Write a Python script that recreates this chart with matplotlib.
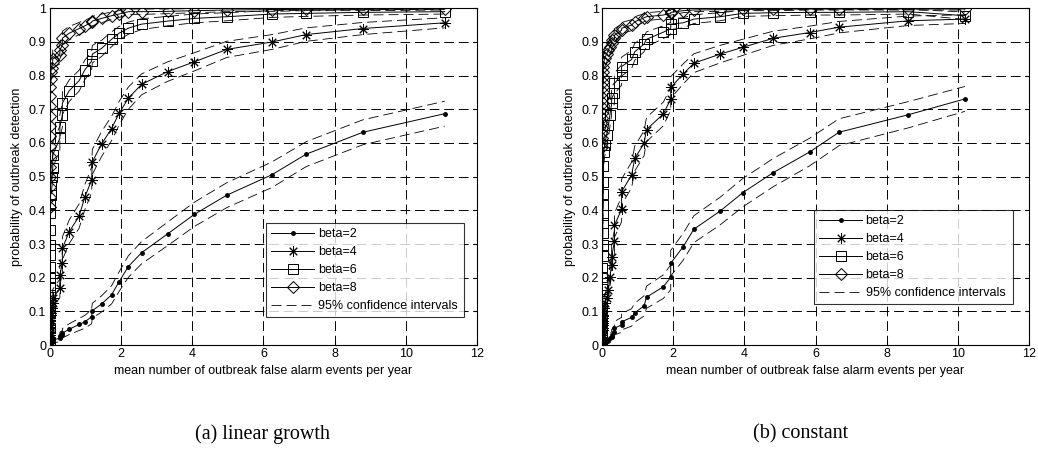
import matplotlib.pyplot as plt
import numpy as np

# ---------------------------------------------------------------
# data (x = false alarms / year, y = P(detect))
# ---------------------------------------------------------------

# (a) linear growth : common false alarm axis for every beta
x_a = [0.0, 0.0, 0.002, 0.004, 0.006, 0.008, 0.01, 0.012, 0.014, 0.016,
       0.018, 0.02, 0.025, 0.03, 0.035, 0.06, 0.09, 0.09, 0.29, 0.29,
       0.36, 0.36, 0.55, 0.83, 0.99, 1.18, 1.20, 1.46, 1.74, 1.95,
       2.21, 2.58, 3.31, 4.06, 4.97, 6.24, 7.20, 8.79, 11.08]

a_beta2 = [0.0, 0.0, 0.001, 0.001, 0.002, 0.002, 0.003, 0.003, 0.004, 0.004,
           0.005, 0.005, 0.006, 0.007, 0.008, 0.01, 0.012, 0.015, 0.02, 0.026,
           0.03, 0.035, 0.047, 0.061, 0.069, 0.084, 0.102, 0.122, 0.149, 0.188,
           0.233, 0.274, 0.33, 0.388, 0.445, 0.506, 0.567, 0.632, 0.687]
a_beta4 = [0.005, 0.01, 0.015, 0.02, 0.03, 0.035, 0.04, 0.05, 0.055, 0.06,
           0.07, 0.075, 0.08, 0.088, 0.094, 0.11, 0.125, 0.139, 0.168, 0.208,
           0.243, 0.287, 0.336, 0.383, 0.439, 0.49, 0.544, 0.597, 0.643, 0.688,
           0.733, 0.774, 0.812, 0.841, 0.878, 0.90, 0.922, 0.94, 0.957]
a_beta6 = [0.01, 0.05, 0.099, 0.119, 0.149, 0.173, 0.198, 0.233, 0.267, 0.297,
           0.342, 0.392, 0.42, 0.445, 0.475, 0.50, 0.525, 0.564, 0.614, 0.648,
           0.683, 0.718, 0.755, 0.785, 0.817, 0.843, 0.864, 0.881, 0.908, 0.926,
           0.941, 0.953, 0.962, 0.97, 0.975, 0.983, 0.985, 0.988, 0.99]
a_beta8 = [0.41, 0.44, 0.47, 0.50, 0.53, 0.56, 0.59, 0.62, 0.65, 0.68,
           0.71, 0.74, 0.765, 0.79, 0.81, 0.822, 0.842, 0.85, 0.861, 0.875,
           0.891, 0.911, 0.926, 0.94, 0.948, 0.958, 0.962, 0.97, 0.978, 0.983,
           0.99, 0.99, 0.991, 0.993, 0.995, 0.996, 0.997, 0.997, 0.998]

# half width of the 95% confidence band
a_hw2 = [0.002, 0.002, 0.002, 0.002, 0.003, 0.003, 0.004, 0.004, 0.005, 0.005,
         0.005, 0.005, 0.006, 0.006, 0.007, 0.007, 0.008, 0.009, 0.01, 0.012,
         0.013, 0.014, 0.016, 0.018, 0.019, 0.021, 0.022, 0.024, 0.027, 0.029,
         0.032, 0.033, 0.035, 0.036, 0.037, 0.038, 0.037, 0.037, 0.037]
a_hw4 = [0.005, 0.007, 0.009, 0.01, 0.013, 0.014, 0.014, 0.016, 0.017, 0.018,
         0.019, 0.02, 0.02, 0.021, 0.022, 0.023, 0.025, 0.026, 0.028, 0.03,
         0.032, 0.034, 0.035, 0.036, 0.037, 0.038, 0.037, 0.037, 0.036, 0.035,
         0.033, 0.031, 0.029, 0.027, 0.024, 0.022, 0.02, 0.018, 0.015]
a_hw6 = [0.007, 0.016, 0.022, 0.024, 0.027, 0.028, 0.03, 0.032, 0.033, 0.034,
         0.036, 0.037, 0.037, 0.037, 0.038, 0.038, 0.038, 0.037, 0.036, 0.036,
         0.035, 0.034, 0.032, 0.031, 0.029, 0.027, 0.026, 0.024, 0.022, 0.02,
         0.018, 0.016, 0.014, 0.013, 0.012, 0.01, 0.009, 0.008, 0.007]
a_hw8 = [0.037, 0.037, 0.038, 0.038, 0.038, 0.037, 0.037, 0.036, 0.036, 0.035,
         0.034, 0.033, 0.032, 0.031, 0.029, 0.029, 0.027, 0.027, 0.026, 0.025,
         0.023, 0.021, 0.02, 0.018, 0.017, 0.015, 0.014, 0.013, 0.011, 0.01,
         0.008, 0.008, 0.007, 0.006, 0.005, 0.005, 0.004, 0.004, 0.003]

# (b) constant
x_b = [0.0, 0.0, 0.002, 0.004, 0.006, 0.008, 0.01, 0.012, 0.014, 0.016,
       0.018, 0.02, 0.022, 0.025, 0.03, 0.035, 0.04, 0.05, 0.07, 0.13,
       0.18, 0.22, 0.27, 0.27, 0.35, 0.35, 0.55, 0.55, 0.83, 0.92,
       1.18, 1.25, 1.72, 1.93, 1.93, 2.28, 2.58, 3.32, 3.95, 4.81,
       5.83, 6.66, 8.61, 10.2]

b_beta2 = [0.0, 0.0, 0.0, 0.0, 0.001, 0.001, 0.002, 0.002, 0.003, 0.003,
           0.004, 0.004, 0.005, 0.005, 0.006, 0.007, 0.008, 0.009, 0.01, 0.012,
           0.015, 0.02, 0.025, 0.03, 0.04, 0.05, 0.06, 0.069, 0.082, 0.096,
           0.116, 0.142, 0.173, 0.201, 0.243, 0.292, 0.344, 0.398, 0.452, 0.512,
           0.573, 0.632, 0.684, 0.731]
b_beta4 = [0.0, 0.005, 0.01, 0.015, 0.02, 0.025, 0.03, 0.04, 0.045, 0.05,
           0.06, 0.065, 0.07, 0.08, 0.085, 0.09, 0.1, 0.11, 0.125, 0.139,
           0.163, 0.203, 0.238, 0.262, 0.309, 0.356, 0.403, 0.455, 0.505, 0.554,
           0.599, 0.64, 0.686, 0.73, 0.765, 0.805, 0.837, 0.864, 0.884, 0.911,
           0.928, 0.944, 0.963, 0.968]
b_beta6 = [0.01, 0.04, 0.07, 0.1, 0.13, 0.165, 0.203, 0.228, 0.264, 0.297,
           0.332, 0.361, 0.386, 0.416, 0.45, 0.485, 0.532, 0.574, 0.594, 0.625,
           0.653, 0.683, 0.718, 0.733, 0.748, 0.777, 0.802, 0.827, 0.848, 0.871,
           0.894, 0.908, 0.929, 0.94, 0.953, 0.957, 0.968, 0.975, 0.985, 0.987,
           0.988, 0.988, 0.99, 0.978]
b_beta8 = [0.589, 0.60, 0.615, 0.63, 0.645, 0.66, 0.675, 0.69, 0.705, 0.72,
           0.735, 0.75, 0.765, 0.78, 0.795, 0.81, 0.825, 0.841, 0.851, 0.865,
           0.876, 0.886, 0.896, 0.905, 0.911, 0.92, 0.935, 0.941, 0.95, 0.96,
           0.972, 0.975, 0.98, 0.985, 0.988, 0.993, 0.995, 0.996, 0.997, 0.997,
           0.998, 0.998, 0.998, 0.998]

b_hw2 = [0.002, 0.002, 0.002, 0.002, 0.003, 0.003, 0.004, 0.004, 0.005, 0.005,
         0.006, 0.006, 0.006, 0.006, 0.007, 0.007, 0.008, 0.008, 0.009, 0.01,
         0.011, 0.013, 0.014, 0.016, 0.018, 0.02, 0.022, 0.024, 0.026, 0.028,
         0.03, 0.033, 0.035, 0.037, 0.038, 0.04, 0.04, 0.041, 0.042, 0.042,
         0.041, 0.04, 0.039, 0.037]
b_hw4 = [0.002, 0.005, 0.007, 0.009, 0.01, 0.011, 0.012, 0.014, 0.015, 0.016,
         0.018, 0.018, 0.019, 0.02, 0.021, 0.021, 0.022, 0.023, 0.025, 0.026,
         0.028, 0.03, 0.032, 0.033, 0.035, 0.036, 0.037, 0.038, 0.038, 0.037,
         0.037, 0.036, 0.035, 0.033, 0.032, 0.03, 0.028, 0.026, 0.024, 0.021,
         0.019, 0.017, 0.014, 0.013]
b_hw6 = [0.007, 0.015, 0.019, 0.022, 0.025, 0.028, 0.03, 0.031, 0.033, 0.034,
         0.035, 0.036, 0.036, 0.037, 0.037, 0.038, 0.037, 0.037, 0.037, 0.036,
         0.036, 0.035, 0.034, 0.033, 0.032, 0.031, 0.03, 0.028, 0.027, 0.025,
         0.023, 0.022, 0.019, 0.018, 0.016, 0.015, 0.013, 0.012, 0.009, 0.009,
         0.008, 0.008, 0.007, 0.011]
b_hw8 = [0.037, 0.037, 0.036, 0.036, 0.036, 0.035, 0.035, 0.034, 0.034, 0.034,
         0.033, 0.032, 0.032, 0.031, 0.03, 0.029, 0.028, 0.027, 0.026, 0.025,
         0.024, 0.023, 0.023, 0.022, 0.021, 0.02, 0.018, 0.017, 0.016, 0.015,
         0.012, 0.012, 0.011, 0.009, 0.008, 0.006, 0.005, 0.005, 0.004, 0.004,
         0.003, 0.003, 0.003, 0.003]

labels = ["beta=2", "beta=4", "beta=6", "beta=8"]
ci_label = "95% confidence intervals"
captions = ["(a) linear growth", "(b) constant"]
xticks = [0, 2, 4, 6, 8, 10, 12]
yticks = [0, 0.1, 0.2, 0.3, 0.4, 0.5, 0.6, 0.7, 0.8, 0.9, 1]
ytick_labels = ["0", "0.1", "0.2", "0.3", "0.4", "0.5", "0.6", "0.7", "0.8", "0.9", "1"]

# ---------------------------------------------------------------
# style
# ---------------------------------------------------------------
FS = 9
plt.rcParams.update({
    "font.family": ["Liberation Sans", "DejaVu Sans"],
    "font.size": FS,
    "axes.linewidth": 0.8,
    "xtick.direction": "in",
    "ytick.direction": "in",
    "xtick.major.size": 3,
    "ytick.major.size": 3,
    "xtick.top": True,
    "ytick.right": True,
})

markers = [
    dict(marker="o", ms=2.5, mfc="k", mec="k"),
    dict(marker=(8, 2, 0), ms=7.5, mew=0.7, mec="k"),
    dict(marker="s", ms=7, mfc="none", mew=0.7, mec="k"),
    dict(marker="D", ms=6.5, mfc="none", mew=0.7, mec="k"),
]
dash = (0, (12, 6))
grid_dash = (0, (10, 5))


def panel(ax, x, series, hws, legend_box):
    x = np.asarray(x)
    for y, hw in zip(series, hws):
        y = np.asarray(y)
        hw = np.asarray(hw)
        ax.plot(x, np.clip(y + hw, 0, 1.0), color="k", lw=0.6, ls=dash)
        ax.plot(x, np.clip(y - hw, 0, 1.0), color="k", lw=0.6, ls=dash)
    handles = []
    for y, lab, mk in zip(series, labels, markers):
        h, = ax.plot(x, y, color="k", lw=0.7, label=lab, **mk)
        handles.append(h)
    ci, = ax.plot([], [], color="k", lw=0.6, ls=dash, label=ci_label)
    handles.append(ci)

    ax.set_xlim(0, 12)
    ax.set_ylim(0, 1)
    ax.set_xticks(xticks)
    ax.set_yticks(yticks)
    ax.set_yticklabels(ytick_labels)
    ax.grid(True, color="k", lw=0.7, ls=grid_dash)
    ax.tick_params(pad=2.5, labelsize=FS)
    ax.set_xlabel("mean number of outbreak false alarm events per year",
                  fontsize=FS, labelpad=3)
    ax.set_ylabel("probability of outbreak detection", fontsize=FS,
                  labelpad=4)

    leg = ax.legend(handles=handles, loc="lower left",
                    bbox_to_anchor=legend_box, mode="expand",
                    fontsize=FS, frameon=True, fancybox=False,
                    handlelength=3.4, handletextpad=0.3,
                    labelspacing=0.48, borderpad=0.4, borderaxespad=0)
    leg.get_frame().set_edgecolor("k")
    leg.get_frame().set_linewidth(0.8)
    leg.set_zorder(5)


fig = plt.figure(figsize=(10.38, 4.67), dpi=100)
fig.patch.set_facecolor("white")

ax_a = fig.add_axes([0.0477, 0.2612, 0.4123, 0.721])
ax_b = fig.add_axes([0.580, 0.2612, 0.4114, 0.721])

panel(ax_a, x_a, [a_beta2, a_beta4, a_beta6, a_beta8],
      [a_hw2, a_hw4, a_hw6, a_hw8], (0.507, 0.082, 0.462, 0.289))
panel(ax_b, x_b, [b_beta2, b_beta4, b_beta6, b_beta8],
      [b_hw2, b_hw4, b_hw6, b_hw8], (0.497, 0.121, 0.466, 0.285))

fig.text(0.253, 0.071, captions[0], ha="center", va="center",
         family="Liberation Serif", fontsize=14.5)
fig.text(0.771, 0.071, captions[1], ha="center", va="center",
         family="Liberation Serif", fontsize=14.5)

fig.savefig("out.png", dpi=100)
